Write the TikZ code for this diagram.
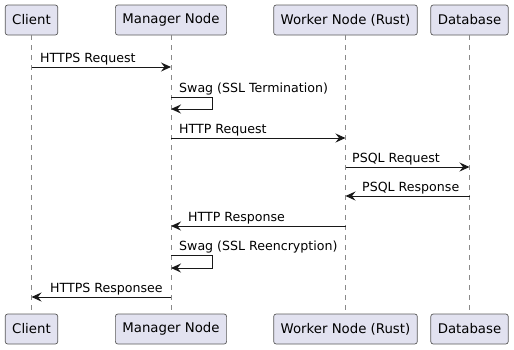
\documentclass[tikz,border=0pt]{standalone}
\usepackage{fontspec}
\setmainfont{DejaVu Sans}
\usetikzlibrary{arrows.meta}
\definecolor{partfill}{HTML}{E2E2F0}
\definecolor{ink}{HTML}{181818}
\definecolor{lifegray}{HTML}{8A8A8A}
\definecolor{boxline}{HTML}{5A5A5A}
\begin{document}
\begin{tikzpicture}[x=1pt,y=-1pt,
  part/.style={draw=boxline, fill=partfill, rounded corners=2.5pt, line width=0.7pt,
    minimum height=30pt, inner xsep=7pt, inner ysep=0pt,
    font=\fontsize{13.3}{15}\selectfont, text=black},
  lifeline/.style={draw=lifegray, line width=0.6pt, dash pattern=on 5pt off 5pt},
  msg/.style={draw=ink, line width=1pt, -{Stealth[length=10pt,width=9pt,inset=3.5pt]}},
  lbl/.style={anchor=base west, inner sep=0pt, font=\fontsize{12.6}{14}\selectfont, text=black}]
\useasboundingbox (0,0) rectangle (514,349);

% participants, top and bottom rows
\node[part] (clT) at (31.5,20) {Client};
\node[part] (mgT) at (171,20) {Manager Node};
\node[part] (wkT) at (345.5,20) {Worker Node (Rust)};
\node[part] (dbT) at (469.5,20) {Database};
\node[part] (clB) at (31.5,329) {Client};
\node[part] (mgB) at (171,329) {Manager Node};
\node[part] (wkB) at (345.5,329) {Worker Node (Rust)};
\node[part] (dbB) at (469.5,329) {Database};

% lifelines
\draw[lifeline] (clT) -- (clB);
\draw[lifeline] (mgT) -- (mgB);
\draw[lifeline] (wkT) -- (wkB);
\draw[lifeline] (dbT) -- (dbB);

% messages
\draw[msg] (clT |- 0,67) -- (mgT |- 0,67);
\node[lbl] (m1) at (40,62.5) {HTTPS Request};

\draw[msg] (mgT |- 0,97) -- (212,97) -- (212,109) -- (mgT |- 0,109);
\node[lbl] (m2) at (179,92) {Swag (SSL Termination)};

\draw[msg] (mgT |- 0,138) -- (wkT |- 0,138);
\node[lbl] (m3) at (179,133.5) {HTTP Request};

\draw[msg] (wkT |- 0,167) -- (dbT |- 0,167);
\node[lbl] (m4) at (352,162.5) {PSQL Request};

\draw[msg] (dbT |- 0,196) -- (wkT |- 0,196);
\node[lbl] (m5) at (362,191.5) {PSQL Response};

\draw[msg] (wkT |- 0,226) -- (mgT |- 0,226);
\node[lbl] (m6) at (188,221) {HTTP Response};

\draw[msg] (mgT |- 0,255) -- (212,255) -- (212,268) -- (mgT |- 0,268);
\node[lbl] (m7) at (179,250) {Swag (SSL Reencryption)};

\draw[msg] (mgT |- 0,297) -- (clT |- 0,297);
\node[lbl] (m8) at (50,292) {HTTPS Responsee};
\end{tikzpicture}
\end{document}
